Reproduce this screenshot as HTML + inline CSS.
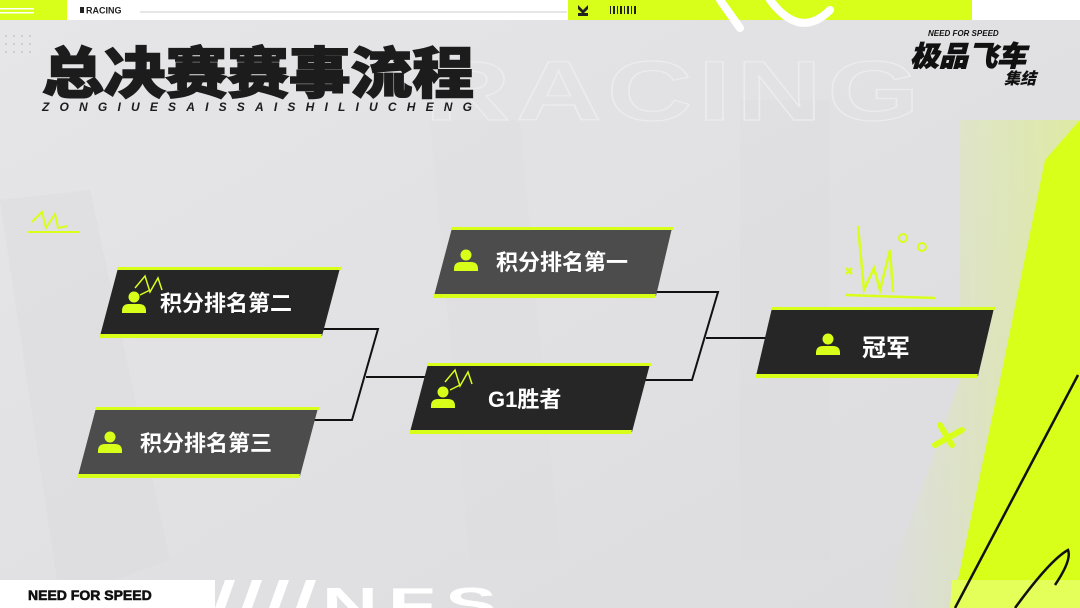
<!DOCTYPE html>
<html><head><meta charset="utf-8"><style>
html,body{margin:0;padding:0;width:1080px;height:608px;overflow:hidden;background:#e3e3e5}
svg{display:block}
text{font-family:"Liberation Sans","Noto Sans CJK SC",sans-serif}
</style></head><body>
<svg width="1080" height="608" viewBox="0 0 1080 608" xmlns="http://www.w3.org/2000/svg">
<defs>
<linearGradient id="bg" x1="0" y1="0" x2="1" y2="1">
<stop offset="0" stop-color="#e6e6e8"/><stop offset="0.5" stop-color="#e1e1e3"/><stop offset="1" stop-color="#dcdcdf"/>
</linearGradient>
<linearGradient id="fade" x1="0" y1="0" x2="1" y2="0">
<stop offset="0" stop-color="#d8ff1a" stop-opacity="0"/><stop offset="1" stop-color="#d8ff1a" stop-opacity="0.45"/>
</linearGradient>
<g id="person"><circle cx="0" cy="-6" r="5.5"/><path d="M-12 8 Q-12 1 -5 1 L5 1 Q12 1 12 8 L12 10 L-12 10Z"/></g>
</defs>
<rect width="1080" height="608" fill="url(#bg)"/>
<path d="M0 200 L90 190 L170 560 L60 600 Z" fill="#dbdbde" opacity="0.5"/>
<path d="M430 120 L520 120 L560 560 L470 560Z" fill="#dcdcdf" opacity="0.35"/>
<path d="M740 100 L830 100 L830 560 L740 560Z" fill="#dcdcdf" opacity="0.3"/>
<text x="425" y="120" font-size="84" font-weight="bold" fill="none" stroke="#ececee" stroke-width="1.2" letter-spacing="4" textLength="500" lengthAdjust="spacingAndGlyphs">RACING</text>
<!-- lime spray region -->
<path d="M960 120 L1080 120 L1080 608 L880 608 L960 380Z" fill="url(#fade)" opacity="0.7"/>
<path d="M1045 160 L1080 120 L1080 608 L952 608 L1000 380 Z" fill="#d8ff1a"/>
<path d="M952 580 L1080 580 L1080 608 L950 608Z" fill="#e4ff5a"/>
<line x1="1078" y1="375" x2="955" y2="608" stroke="#111" stroke-width="2.5"/>
<path d="M1015 608 Q1050 560 1068 550 Q1072 560 1055 585" stroke="#111" stroke-width="2.5" fill="none"/>
<path d="M940 425 L952 445 M935 445 L962 430" stroke="#d8ff1a" stroke-width="6" stroke-linecap="round"/>
<!-- top bar -->
<rect x="0" y="0" width="1080" height="20" fill="#fff"/>
<rect x="0" y="0" width="67" height="20" fill="#d8ff1a"/>
<rect x="0" y="8" width="34" height="1.5" fill="#fff"/><rect x="0" y="12" width="34" height="1.5" fill="#fff"/>
<rect x="80" y="7" width="4" height="6" fill="#222"/>
<text x="86" y="13.5" font-size="9" font-weight="bold" fill="#222">RACING</text>
<line x1="140" y1="12" x2="567" y2="12" stroke="#bbb" stroke-width="0.8"/>
<rect x="568" y="0" width="404" height="20" fill="#d8ff1a"/>
<path d="M578 5 L583 10 L588 5 L588 9 L583 14 L578 9Z M578 13 L588 13 L588 16 L578 16Z" fill="#222"/>
<g fill="#222"><rect x="610" y="6" width="1" height="8"/><rect x="613" y="6" width="2" height="8"/><rect x="617" y="6" width="1" height="8"/><rect x="620" y="6" width="2" height="8"/><rect x="624" y="6" width="1" height="8"/><rect x="627" y="6" width="2" height="8"/><rect x="631" y="6" width="1" height="8"/><rect x="634" y="6" width="2" height="8"/></g>
<path d="M720 0 L740 28 M770 0 Q800 40 830 10" stroke="#fff" stroke-width="8" fill="none" stroke-linecap="round"/>
<g fill="#c8c8cc"><circle cx="6" cy="36" r="1"/><circle cx="14" cy="36" r="1"/><circle cx="22" cy="36" r="1"/><circle cx="30" cy="36" r="1"/><circle cx="6" cy="44" r="1"/><circle cx="14" cy="44" r="1"/><circle cx="22" cy="44" r="1"/><circle cx="30" cy="44" r="1"/><circle cx="6" cy="52" r="1"/><circle cx="14" cy="52" r="1"/><circle cx="22" cy="52" r="1"/><circle cx="30" cy="52" r="1"/></g>
<!-- title -->
<text x="42" y="93" font-size="55" font-weight="900" fill="#1c1c1c" stroke="#1c1c1c" stroke-width="1.5" font-family="'Noto Sans CJK SC',sans-serif" textLength="432" lengthAdjust="spacingAndGlyphs">总决赛赛事流程</text>
<text x="42" y="111" font-size="12" font-weight="bold" font-style="italic" fill="#1c1c1c" textLength="430" lengthAdjust="spacing">ZONGIUESAISSAISHILIUCHENG</text>
<!-- logo -->
<text x="928" y="36" font-size="8" font-weight="bold" font-style="italic" fill="#111">NEED FOR SPEED</text>
<text x="910" y="66" font-size="28" font-weight="900" font-style="italic" fill="#111" stroke="#111" stroke-width="0.8" font-family="'Noto Sans CJK SC',sans-serif" textLength="116" lengthAdjust="spacingAndGlyphs">极品飞车</text>
<text x="1004" y="84" font-size="16" font-weight="900" font-style="italic" fill="#111" font-family="'Noto Sans CJK SC',sans-serif">集结</text>
<!-- crowns -->
<path d="M32 222 L42 212 L46 228 L55 214 L58 228 L68 226 M28 232 L80 232" stroke="#d8ff1a" stroke-width="2" fill="none"/>
<path d="M858 226 L864 290 L874 268 L880 290 L890 250 L893 292 M845 295 L935 298 M846 268 L852 274 M852 268 L846 274" stroke="#d8ff1a" stroke-width="2.5" fill="none"/>
<circle cx="903" cy="238" r="4" stroke="#d8ff1a" stroke-width="2" fill="none"/><circle cx="922" cy="247" r="4" stroke="#d8ff1a" stroke-width="2" fill="none"/>
<!-- connectors -->
<g stroke="#111" stroke-width="2" fill="none">
<polyline points="322,329 378,329 352,420 300,420"/>
<line x1="366" y1="377" x2="428" y2="377"/>
<polyline points="656,292 718,292 692,380 632,380"/>
<line x1="706" y1="338" x2="770" y2="338"/>
</g>
<!-- boxes -->
<g>
<polygon points="118,268 340,268 322,336 100,336" fill="#262626"/>
<rect x="117" y="267" width="224" height="3" fill="#d8ff1a"/><polygon points="100,334 322,334 321,338 99,338" fill="#d8ff1a"/>
<path d="M135 288 L145 276 L150 292 L158 278 L162 290 M140 295 L150 290" stroke="#d8ff1a" stroke-width="1.5" fill="none"/>
<g fill="#d8ff1a" transform="translate(134,303)"><use href="#person"/></g>
<text x="160" y="311" font-size="22" font-weight="bold" fill="#fff" font-family="'Noto Sans CJK SC',sans-serif">积分排名第二</text>

<polygon points="96,408 318,408 300,476 78,476" fill="#4c4c4c"/>
<rect x="95" y="407" width="224" height="3" fill="#d8ff1a"/><polygon points="78,474 300,474 299,478 77,478" fill="#d8ff1a"/>
<g fill="#d8ff1a" transform="translate(110,443)"><use href="#person"/></g>
<text x="140" y="451" font-size="22" font-weight="bold" fill="#fff" font-family="'Noto Sans CJK SC',sans-serif">积分排名第三</text>

<polygon points="452,228 672,228 656,296 434,296" fill="#4c4c4c"/>
<rect x="451" y="227" width="222" height="3" fill="#d8ff1a"/><polygon points="434,294 656,294 655,298 433,298" fill="#d8ff1a"/>
<g fill="#d8ff1a" transform="translate(466,261)"><use href="#person"/></g>
<text x="496" y="270" font-size="22" font-weight="bold" fill="#fff" font-family="'Noto Sans CJK SC',sans-serif">积分排名第一</text>

<polygon points="428,364 650,364 632,432 410,432" fill="#262626"/>
<rect x="427" y="363" width="224" height="3" fill="#d8ff1a"/><polygon points="410,430 632,430 631,434 409,434" fill="#d8ff1a"/>
<path d="M445 382 L455 370 L460 386 L468 372 L472 384 M450 390 L460 385" stroke="#d8ff1a" stroke-width="1.5" fill="none"/>
<g fill="#d8ff1a" transform="translate(443,398)"><use href="#person"/></g>
<text x="488" y="407" font-size="22" font-weight="bold" fill="#fff" font-family="'Noto Sans CJK SC',sans-serif">G1胜者</text>

<polygon points="772,308 994,308 978,376 756,376" fill="#262626"/>
<rect x="771" y="307" width="224" height="3" fill="#d8ff1a"/><polygon points="756,374 978,374 977,378 755,378" fill="#d8ff1a"/>
<g fill="#d8ff1a" transform="translate(828,345)"><use href="#person"/></g>
<text x="862" y="356" font-size="24" font-weight="bold" fill="#fff" font-family="'Noto Sans CJK SC',sans-serif">冠军</text>
</g>
<!-- bottom -->
<rect x="0" y="580" width="215" height="28" fill="#fff"/>
<text x="28" y="600" font-size="14" font-weight="900" fill="#111" stroke="#111" stroke-width="0.6">NEED FOR SPEED</text>
<g fill="#fff"><polygon points="215,608 225,580 235,580 225,608"/><polygon points="242,608 252,580 262,580 252,608"/><polygon points="269,608 279,580 289,580 279,608"/><polygon points="296,608 306,580 316,580 306,608"/></g>
<text x="322" y="620" font-size="46" font-weight="900" fill="#fff" letter-spacing="6" textLength="185" lengthAdjust="spacingAndGlyphs">NFS</text>
</svg>
</body></html>
